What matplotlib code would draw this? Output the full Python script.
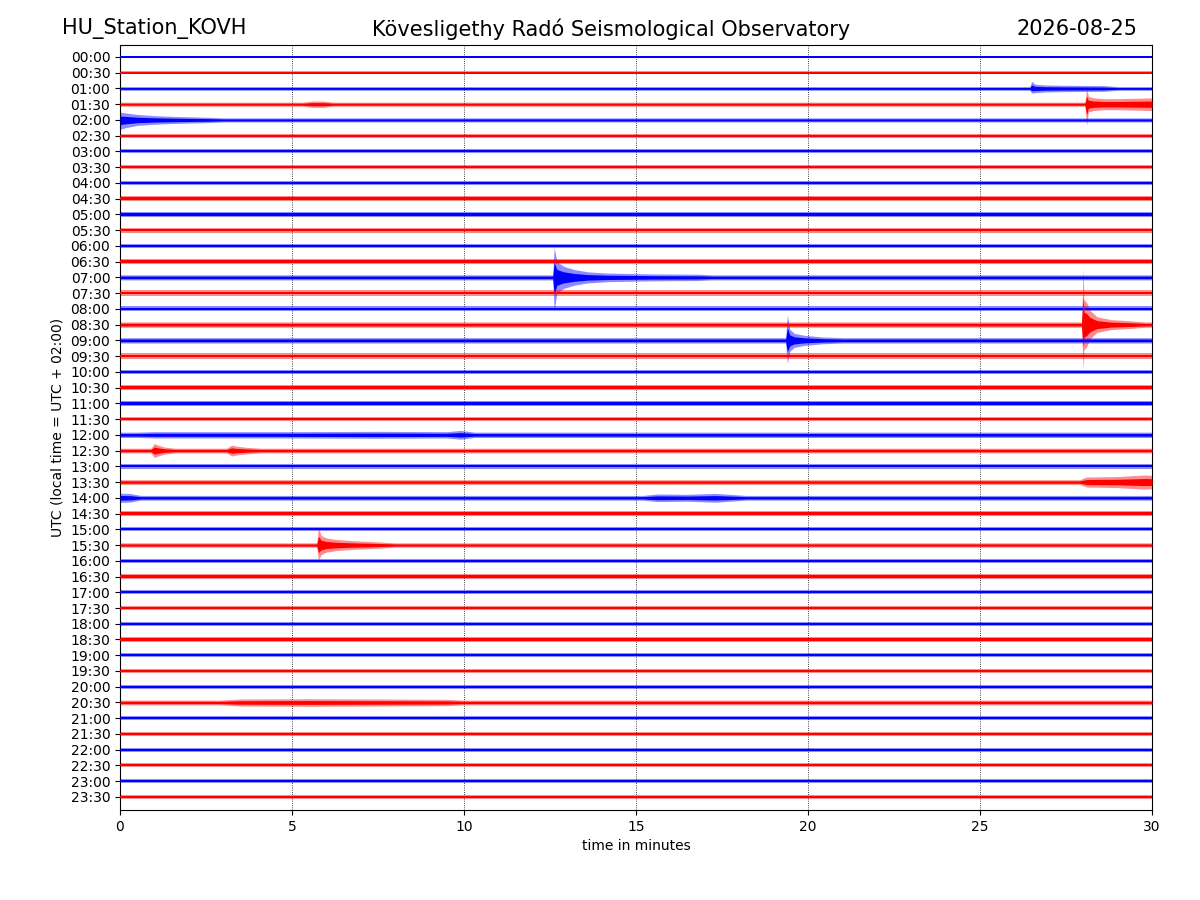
import matplotlib
matplotlib.use('Agg')
import matplotlib.pyplot as plt
import numpy as np

station = 'HU_Station_KOVH'
observatory = 'Kövesligethy Radó Seismological Observatory'
day = '2026-08-25'

# row labels (UTC), one trace per half hour
row_labels = ['%02d:%02d' % (h, m) for h in range(24) for m in (0, 30)]

# baseline noise half-width of every trace (in row units)
noise = [0.09, 0.11, 0.12, 0.13, 0.13, 0.13, 0.13, 0.14, 0.13, 0.15,
         0.15, 0.16, 0.15, 0.16, 0.16, 0.17, 0.16, 0.17, 0.17, 0.17,
         0.14, 0.15, 0.15, 0.15, 0.17, 0.15, 0.15, 0.15, 0.15, 0.14,
         0.13, 0.14, 0.13, 0.13, 0.14, 0.13, 0.13, 0.13, 0.13, 0.13,
         0.12, 0.15, 0.14, 0.13, 0.12, 0.13, 0.13, 0.12]

# events: (row, minutes, upper envelope, lower envelope)
events = [
    (2, [26.45, 26.5, 26.6, 26.9, 27.5, 28.6, 29.0],
        [0.12, 0.45, 0.27, 0.22, 0.2, 0.18, 0.12],
        [0.12, 0.3, 0.27, 0.22, 0.2, 0.18, 0.12]),
    (3, [5.3, 5.6, 5.9, 6.2],
        [0.13, 0.2, 0.2, 0.13],
        [0.13, 0.2, 0.2, 0.13]),
    (3, [28.05, 28.1, 28.15, 28.3, 28.6, 29.0, 30.0],
        [0.13, 1.0, 0.5, 0.4, 0.35, 0.35, 0.4],
        [0.13, 1.35, 0.5, 0.4, 0.35, 0.35, 0.4]),
    (4, [0.0, 0.15, 0.5, 1.0, 1.6, 2.4, 3.0],
        [0.5, 0.45, 0.35, 0.27, 0.22, 0.18, 0.13],
        [0.6, 0.5, 0.35, 0.27, 0.22, 0.18, 0.13]),
    (14, [12.58, 12.62, 12.7, 12.9, 13.2, 13.6, 14.2, 15.5, 16.8, 17.2],
         [0.16, 1.9, 1.0, 0.7, 0.5, 0.35, 0.27, 0.22, 0.2, 0.16],
         [0.16, 2.1, 1.0, 0.7, 0.5, 0.35, 0.27, 0.22, 0.2, 0.16]),
    (17, [27.95, 28.0, 28.02, 28.1, 28.2, 28.4, 28.8, 29.3, 29.8],
         [0.17, 3.6, 1.6, 1.4, 0.9, 0.5, 0.32, 0.25, 0.17],
         [0.17, 2.9, 1.6, 1.4, 0.9, 0.5, 0.32, 0.25, 0.17]),
    (18, [19.35, 19.4, 19.47, 19.6, 19.9, 20.4, 21.0],
         [0.17, 1.6, 0.7, 0.45, 0.32, 0.22, 0.17],
         [0.17, 1.45, 0.7, 0.45, 0.32, 0.22, 0.17]),
    (24, [0.5, 1.0, 5.0, 7.5, 9.5, 9.9, 10.3],
         [0.17, 0.2, 0.2, 0.22, 0.2, 0.28, 0.17],
         [0.17, 0.2, 0.2, 0.22, 0.2, 0.28, 0.17]),
    (25, [0.9, 1.0, 1.1, 1.3, 1.6],
         [0.15, 0.45, 0.35, 0.22, 0.15],
         [0.15, 0.45, 0.35, 0.22, 0.15]),
    (25, [3.1, 3.25, 3.4, 3.7, 4.1],
         [0.15, 0.35, 0.27, 0.2, 0.15],
         [0.15, 0.35, 0.27, 0.2, 0.15]),
    (27, [27.9, 28.1, 29.0, 29.8, 30.0],
         [0.15, 0.32, 0.35, 0.45, 0.42],
         [0.15, 0.32, 0.35, 0.45, 0.42]),
    (28, [0.0, 0.3, 0.6],
         [0.3, 0.27, 0.15],
         [0.3, 0.27, 0.15]),
    (28, [15.2, 15.6, 16.5, 17.3, 17.6, 18.2],
         [0.15, 0.24, 0.22, 0.28, 0.24, 0.15],
         [0.15, 0.24, 0.22, 0.28, 0.24, 0.15]),
    (31, [5.72, 5.77, 5.85, 6.0, 6.3, 6.8, 7.5, 8.0],
         [0.14, 1.1, 0.6, 0.45, 0.35, 0.27, 0.2, 0.14],
         [0.14, 0.95, 0.6, 0.45, 0.35, 0.27, 0.2, 0.14]),
    (41, [2.9, 3.5, 5.5, 7.5, 9.5, 10.0],
         [0.15, 0.22, 0.24, 0.22, 0.2, 0.15],
         [0.15, 0.22, 0.24, 0.22, 0.2, 0.15]),
]

colors = ['#0000ff', '#ff0000']

fig = plt.figure(figsize=(12, 9), dpi=100)
ax = fig.add_axes([0.1, 0.1, 0.86, 0.85])

for i, lab in enumerate(row_labels):
    segs = sorted([e for e in events if e[0] == i], key=lambda e: e[1][0])
    t = [0.0]
    up = [noise[i]]
    lo = [noise[i]]
    for e in segs:
        t += e[1]
        up += e[2]
        lo += e[3]
    t.append(30.0)
    up.append(noise[i])
    lo.append(noise[i])
    t = np.array(t)
    up = np.array(up)
    lo = np.array(lo)
    c = colors[i % 2]
    ax.fill_between(t, i - up, i + lo, color=c, alpha=0.45, linewidth=0, zorder=2)
    ax.fill_between(t, i - 0.5 * up, i + 0.5 * lo, color=c, linewidth=0, zorder=3)

ax.set_xlim(0, 30)
ax.set_ylim(47.83, -0.76)
ax.set_xticks([0, 5, 10, 15, 20, 25, 30])
ax.set_yticks(range(len(row_labels)))
ax.set_yticklabels(row_labels)
ax.tick_params(labelsize=10)
ax.xaxis.grid(True, color='black', linestyle=':', linewidth=0.6)
ax.set_xlabel('time in minutes', fontsize=10)
ax.set_ylabel('UTC (local time = UTC + 02:00)', fontsize=10)

fig.text(0.052, 0.968, station, ha='left', va='center', fontsize=15)
fig.text(0.509, 0.968, observatory, ha='center', va='center', fontsize=15)
fig.text(0.948, 0.968, day, ha='right', va='center', fontsize=15)

fig.savefig('out.png', dpi=100)
